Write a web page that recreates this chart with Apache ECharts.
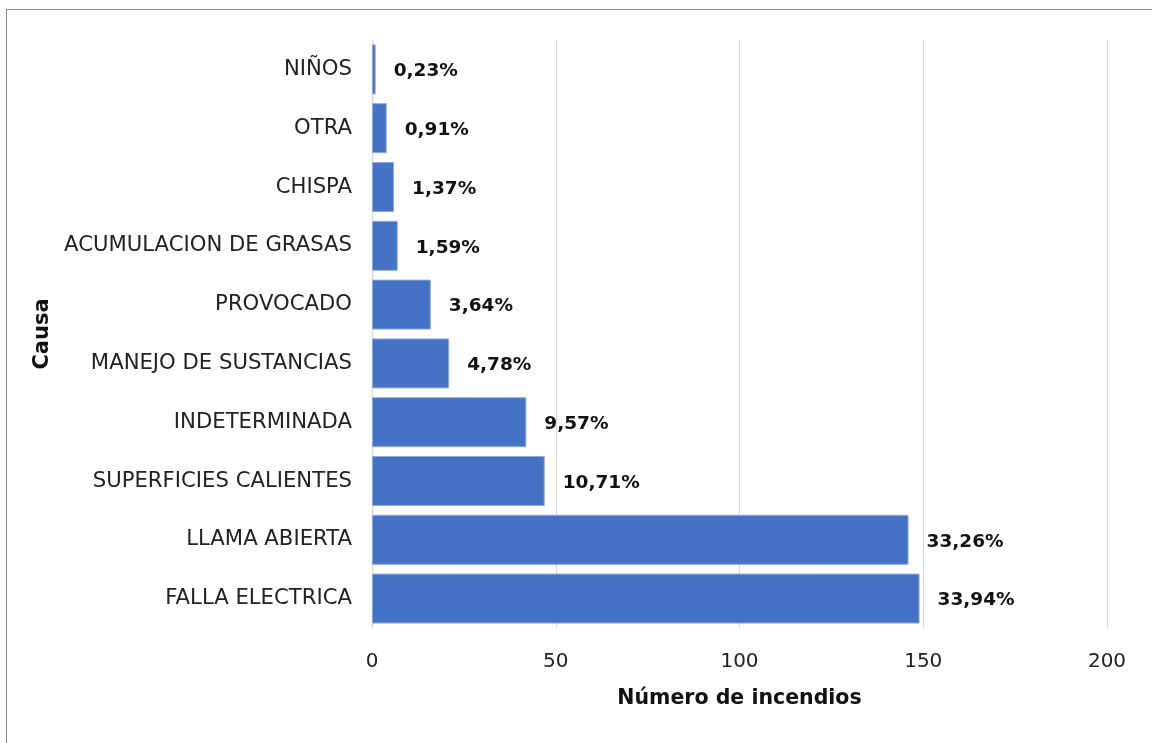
<!DOCTYPE html>
<html><head><meta charset="utf-8">
<script src="https://cdn.jsdelivr.net/npm/echarts@6/dist/echarts.min.js"></script>
<style>html,body{margin:0;padding:0;background:#fff}#frame{position:absolute;left:6px;top:9px;width:1160px;height:750px;border:1.5px solid #8c8c8c;box-sizing:border-box}#c{width:1152px;height:743px;position:absolute;left:0;top:0}</style>
</head><body><div id="frame"></div><div id="c"></div>
<script>
const categories = ["FALLA ELECTRICA","LLAMA ABIERTA","SUPERFICIES CALIENTES","INDETERMINADA","MANEJO DE SUSTANCIAS","PROVOCADO","ACUMULACION DE GRASAS","CHISPA","OTRA","NIÑOS"];
const counts = [149,146,47,42,21,16,7,6,4,1];
const percentLabels = ["33,94%","33,26%","10,71%","9,57%","4,78%","3,64%","1,59%","1,37%","0,91%","0,23%"];
const xTicks = [0,50,100,150,200];
const FONT = "DejaVu Sans";
const chart = echarts.init(document.getElementById('c'));
chart.setOption({
  animation:false,
  grid:{left:372,right:45,top:40,bottom:115,containLabel:false},
  xAxis:{type:'value',min:xTicks[0],max:xTicks[xTicks.length-1],interval:50,
    name:'Número de incendios',nameLocation:'middle',nameGap:60,
    nameTextStyle:{fontFamily:FONT,fontWeight:'bold',fontSize:20.5,color:'#111'},
    axisLine:{show:false},axisTick:{show:false},
    axisLabel:{fontFamily:FONT,fontSize:20,color:'#222',margin:24},
    splitLine:{lineStyle:{color:'#d9d9d9',width:1.2}}},
  yAxis:{type:'category',data:categories,
    name:'Causa',nameLocation:'middle',nameGap:313,nameRotate:90,
    nameTextStyle:{fontFamily:FONT,fontWeight:'bold',fontSize:21,color:'#111'},
    axisLine:{show:true,lineStyle:{color:'#d9d9d9',width:1.2}},axisTick:{show:false},
    axisLabel:{fontFamily:FONT,fontSize:21.2,color:'#222',margin:20}},
  series:[{type:'bar',data:counts,barCategoryGap:'15%',
    itemStyle:{color:'#4472C4',borderColor:'#8faadc',borderWidth:1},
    label:{show:true,position:'right',distance:18,offset:[0,2],fontFamily:FONT,fontWeight:'bold',fontSize:18.5,color:'#111',
      formatter:p=>percentLabels[p.dataIndex]}}]
});
</script></body></html>
